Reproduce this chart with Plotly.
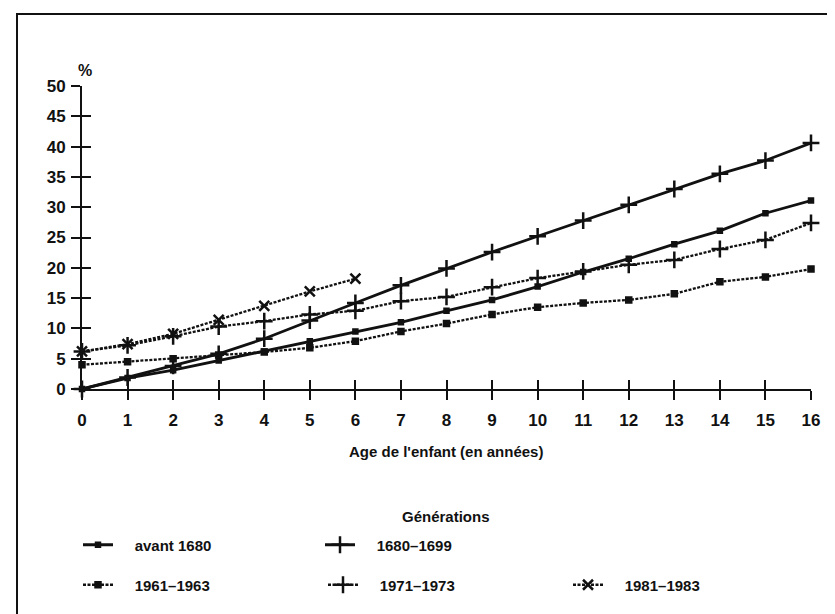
import plotly.graph_objects as go

# ---- data ----
ages = list(range(0, 17))
ages_1981 = list(range(0, 7))

avant_1680 = [0, 1.8, 3.1, 4.7, 6.2, 7.9, 9.5, 11.0, 12.9, 14.7, 16.9, 19.3, 21.5, 23.9, 26.1, 29.0, 31.1]
g1680_1699 = [0, 1.9, 3.8, 5.8, 8.3, 11.3, 14.2, 17.1, 19.9, 22.6, 25.2, 27.8, 30.4, 33.0, 35.5, 37.7, 40.6]
g1961_1963 = [4.0, 4.5, 5.0, 5.6, 6.1, 6.8, 7.9, 9.5, 10.8, 12.3, 13.5, 14.2, 14.7, 15.7, 17.7, 18.5, 19.8]
g1971_1973 = [6.2, 7.2, 8.7, 10.3, 11.2, 12.3, 12.9, 14.5, 15.2, 16.8, 18.3, 19.4, 20.5, 21.3, 23.1, 24.6, 27.4]
g1981_1983 = [6.2, 7.4, 9.1, 11.4, 13.7, 16.1, 18.2]

y_ticks = list(range(0, 51, 5))
x_ticks = ages

FONT = "Liberation Sans"
BLACK = "#111111"
NB = "\u00a0" * 4

# ---- pixel layout helpers ----
W, H = 835, 614
L, R, T, B = 74, 32, 78, 233
PW, PH = W - L - R, H - T - B


def px(xp):
    return (xp - L) / PW


def py(yp):
    return (H - B - yp) / PH


fig = go.Figure()

series = [
    ("avant 1680", ages, avant_1680, "solid", "square", 4, "legend"),
    ("1680\u20131699", ages, g1680_1699, "solid", "cross-thin", 12, "legend"),
    ("1961\u20131963", ages, g1961_1963, "3px,1.5px", "square", 5, "legend2"),
    ("1971\u20131973", ages, g1971_1973, "3px,1.5px", "cross-thin", 12, "legend2"),
    ("1981\u20131983", ages_1981, g1981_1983, "3px,1.5px", "x-thin", 10, "legend2"),
]

for name, xs, ys, dash, sym, size, leg in series:
    fig.add_trace(go.Scatter(
        x=xs, y=ys, name=NB + name, mode="lines+markers",
        line=dict(color=BLACK, width=2.8 if dash == "solid" else 2.3, dash=dash),
        marker=dict(symbol=sym, size=size, color=BLACK,
                    line=dict(color=BLACK, width=2.5)),
        cliponaxis=False, legend=leg,
    ))

tickfont = dict(family=FONT, size=17, color=BLACK, weight="bold")
legfont = dict(family=FONT, size=15, color=BLACK, weight="bold")

fig.update_layout(
    width=W, height=H, autosize=False,
    margin=dict(l=L, r=R, t=T, b=B, pad=0),
    paper_bgcolor="white", plot_bgcolor="white",
    font=dict(family=FONT, color=BLACK),
    xaxis=dict(range=[0, 16], tickvals=x_ticks, ticktext=[str(v) for v in x_ticks],
               ticks="outside", ticklen=9, tickwidth=2, tickcolor=BLACK,
               ticklabelstandoff=6,
               showline=True, linewidth=2, linecolor=BLACK,
               showgrid=False, zeroline=False, tickfont=tickfont, fixedrange=True),
    xaxis2=dict(range=[0, 16], overlaying="x", anchor="y", side="bottom",
                tickvals=x_ticks, ticks="inside", ticklen=9, tickwidth=2, tickcolor=BLACK,
                showticklabels=False, showline=False, showgrid=False, zeroline=False),
    yaxis=dict(range=[0, 50], tickvals=y_ticks, ticktext=[str(v) for v in y_ticks],
               ticks="outside", ticklen=9, tickwidth=2, tickcolor=BLACK,
               ticklabelstandoff=2,
               showline=True, linewidth=2, linecolor=BLACK,
               showgrid=False, zeroline=False, tickfont=tickfont, fixedrange=True),
    yaxis2=dict(range=[0, 50], overlaying="y", anchor="x", side="left",
                tickvals=y_ticks, ticks="inside", ticklen=9, tickwidth=2, tickcolor=BLACK,
                showticklabels=False, showline=False, showgrid=False, zeroline=False),
    legend=dict(orientation="h", x=px(70), xanchor="left", y=py(537), yanchor="middle",
                entrywidth=197, entrywidthmode="pixels", itemwidth=30,
                font=legfont, bgcolor="rgba(0,0,0,0)", traceorder="normal"),
    legend2=dict(orientation="h", x=px(70), xanchor="left", y=py(577), yanchor="middle",
                 entrywidth=200, entrywidthmode="pixels", itemwidth=30,
                 font=legfont, bgcolor="rgba(0,0,0,0)", traceorder="normal"),
    showlegend=True,
)

# dummy trace so the overlay axes (crossing ticks) are drawn
fig.add_trace(go.Scatter(x=[None], y=[None], xaxis="x2", yaxis="y2", showlegend=False))

annots = [
    ("%", 77, 63, 16),
    ("Age de l'enfant (en années)", 438, 443, 15),
    ("Générations", 438, 508, 15),
]
for text, xp, yp, sz in annots:
    fig.add_annotation(text=text, x=px(xp), y=py(yp), xref="paper", yref="paper",
                       showarrow=False, xanchor="center", yanchor="middle",
                       font=dict(family=FONT, size=sz, color=BLACK, weight="bold"))

# outer frame
fig.add_shape(type="rect", xref="paper", yref="paper",
              x0=px(9), x1=px(826), y0=py(630), y1=py(6),
              line=dict(color=BLACK, width=2), fillcolor="rgba(0,0,0,0)")

fig.write_html("out.html")
